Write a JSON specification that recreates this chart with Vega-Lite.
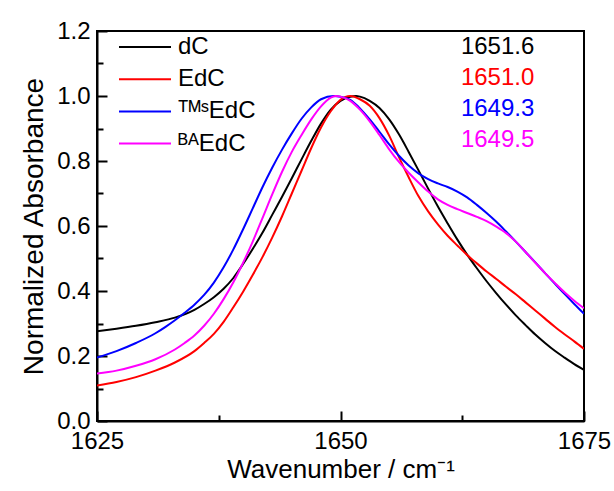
{
  "$schema": "https://vega.github.io/schema/vega-lite/v6.json",
  "width": 487,
  "height": 390,
  "autosize": {"type": "none"},
  "padding": {"left": 97, "top": 31, "right": 30, "bottom": 70},
  "background": "white",
  "config": {
    "font": "Liberation Sans",
    "view": {"stroke": "black", "strokeWidth": 2},
    "axis": {"domainColor": "black", "domainWidth": 2, "tickColor": "black", "tickWidth": 2, "grid": false, "labelColor": "black", "titleColor": "black", "labelFont": "Liberation Sans", "titleFont": "Liberation Sans", "titleFontWeight": "normal"}
  },
  "datasets": {
    "spectra": [
      {"s": "dC", "x": 1625, "y": 0.276}, {"s": "dC", "x": 1627, "y": 0.284}, {"s": "dC", "x": 1629, "y": 0.293}, {"s": "dC", "x": 1631, "y": 0.304}, {"s": "dC", "x": 1633, "y": 0.318}, {"s": "dC", "x": 1635, "y": 0.342}, {"s": "dC", "x": 1636, "y": 0.36}, {"s": "dC", "x": 1637, "y": 0.381}, {"s": "dC", "x": 1638, "y": 0.407}, {"s": "dC", "x": 1639, "y": 0.44}, {"s": "dC", "x": 1640, "y": 0.483}, {"s": "dC", "x": 1641, "y": 0.53}, {"s": "dC", "x": 1642, "y": 0.58}, {"s": "dC", "x": 1643, "y": 0.635}, {"s": "dC", "x": 1644, "y": 0.69}, {"s": "dC", "x": 1645, "y": 0.747}, {"s": "dC", "x": 1646, "y": 0.805}, {"s": "dC", "x": 1647, "y": 0.862}, {"s": "dC", "x": 1648, "y": 0.915}, {"s": "dC", "x": 1649, "y": 0.958}, {"s": "dC", "x": 1650, "y": 0.985}, {"s": "dC", "x": 1651, "y": 0.998}, {"s": "dC", "x": 1651.6, "y": 1.0}, {"s": "dC", "x": 1652, "y": 0.998}, {"s": "dC", "x": 1653, "y": 0.985}, {"s": "dC", "x": 1654, "y": 0.963}, {"s": "dC", "x": 1655, "y": 0.928}, {"s": "dC", "x": 1656, "y": 0.882}, {"s": "dC", "x": 1657, "y": 0.828}, {"s": "dC", "x": 1658, "y": 0.772}, {"s": "dC", "x": 1659, "y": 0.715}, {"s": "dC", "x": 1660, "y": 0.66}, {"s": "dC", "x": 1661, "y": 0.608}, {"s": "dC", "x": 1662, "y": 0.558}, {"s": "dC", "x": 1663, "y": 0.512}, {"s": "dC", "x": 1664, "y": 0.47}, {"s": "dC", "x": 1665, "y": 0.43}, {"s": "dC", "x": 1666, "y": 0.393}, {"s": "dC", "x": 1667, "y": 0.358}, {"s": "dC", "x": 1668, "y": 0.325}, {"s": "dC", "x": 1669, "y": 0.295}, {"s": "dC", "x": 1670, "y": 0.266}, {"s": "dC", "x": 1671, "y": 0.24}, {"s": "dC", "x": 1672, "y": 0.216}, {"s": "dC", "x": 1673, "y": 0.195}, {"s": "dC", "x": 1674, "y": 0.175}, {"s": "dC", "x": 1675, "y": 0.157},

      {"s": "EdC", "x": 1625, "y": 0.109}, {"s": "EdC", "x": 1627, "y": 0.12}, {"s": "EdC", "x": 1629, "y": 0.135}, {"s": "EdC", "x": 1631, "y": 0.155}, {"s": "EdC", "x": 1633, "y": 0.18}, {"s": "EdC", "x": 1635, "y": 0.215}, {"s": "EdC", "x": 1636, "y": 0.24}, {"s": "EdC", "x": 1637, "y": 0.268}, {"s": "EdC", "x": 1638, "y": 0.305}, {"s": "EdC", "x": 1639, "y": 0.35}, {"s": "EdC", "x": 1640, "y": 0.398}, {"s": "EdC", "x": 1641, "y": 0.45}, {"s": "EdC", "x": 1642, "y": 0.505}, {"s": "EdC", "x": 1643, "y": 0.565}, {"s": "EdC", "x": 1644, "y": 0.63}, {"s": "EdC", "x": 1645, "y": 0.7}, {"s": "EdC", "x": 1646, "y": 0.77}, {"s": "EdC", "x": 1647, "y": 0.84}, {"s": "EdC", "x": 1648, "y": 0.903}, {"s": "EdC", "x": 1649, "y": 0.953}, {"s": "EdC", "x": 1650, "y": 0.988}, {"s": "EdC", "x": 1651, "y": 1.0}, {"s": "EdC", "x": 1652, "y": 0.99}, {"s": "EdC", "x": 1653, "y": 0.97}, {"s": "EdC", "x": 1654, "y": 0.932}, {"s": "EdC", "x": 1655, "y": 0.878}, {"s": "EdC", "x": 1656, "y": 0.812}, {"s": "EdC", "x": 1657, "y": 0.75}, {"s": "EdC", "x": 1658, "y": 0.692}, {"s": "EdC", "x": 1659, "y": 0.645}, {"s": "EdC", "x": 1660, "y": 0.605}, {"s": "EdC", "x": 1661, "y": 0.57}, {"s": "EdC", "x": 1662, "y": 0.54}, {"s": "EdC", "x": 1663, "y": 0.511}, {"s": "EdC", "x": 1664, "y": 0.485}, {"s": "EdC", "x": 1665, "y": 0.46}, {"s": "EdC", "x": 1666, "y": 0.437}, {"s": "EdC", "x": 1667, "y": 0.413}, {"s": "EdC", "x": 1668, "y": 0.39}, {"s": "EdC", "x": 1669, "y": 0.365}, {"s": "EdC", "x": 1670, "y": 0.34}, {"s": "EdC", "x": 1671, "y": 0.315}, {"s": "EdC", "x": 1672, "y": 0.29}, {"s": "EdC", "x": 1673, "y": 0.267}, {"s": "EdC", "x": 1674, "y": 0.245}, {"s": "EdC", "x": 1675, "y": 0.222},

      {"s": "ᵀᴹˢEdC", "x": 1625, "y": 0.195}, {"s": "ᵀᴹˢEdC", "x": 1627, "y": 0.215}, {"s": "ᵀᴹˢEdC", "x": 1629, "y": 0.24}, {"s": "ᵀᴹˢEdC", "x": 1631, "y": 0.27}, {"s": "ᵀᴹˢEdC", "x": 1632, "y": 0.289}, {"s": "ᵀᴹˢEdC", "x": 1633, "y": 0.31}, {"s": "ᵀᴹˢEdC", "x": 1634, "y": 0.333}, {"s": "ᵀᴹˢEdC", "x": 1635, "y": 0.358}, {"s": "ᵀᴹˢEdC", "x": 1636, "y": 0.388}, {"s": "ᵀᴹˢEdC", "x": 1637, "y": 0.426}, {"s": "ᵀᴹˢEdC", "x": 1638, "y": 0.473}, {"s": "ᵀᴹˢEdC", "x": 1639, "y": 0.528}, {"s": "ᵀᴹˢEdC", "x": 1640, "y": 0.59}, {"s": "ᵀᴹˢEdC", "x": 1641, "y": 0.655}, {"s": "ᵀᴹˢEdC", "x": 1642, "y": 0.72}, {"s": "ᵀᴹˢEdC", "x": 1643, "y": 0.78}, {"s": "ᵀᴹˢEdC", "x": 1644, "y": 0.835}, {"s": "ᵀᴹˢEdC", "x": 1645, "y": 0.885}, {"s": "ᵀᴹˢEdC", "x": 1646, "y": 0.93}, {"s": "ᵀᴹˢEdC", "x": 1647, "y": 0.965}, {"s": "ᵀᴹˢEdC", "x": 1648, "y": 0.99}, {"s": "ᵀᴹˢEdC", "x": 1649.3, "y": 1.0}, {"s": "ᵀᴹˢEdC", "x": 1650, "y": 0.998}, {"s": "ᵀᴹˢEdC", "x": 1651, "y": 0.988}, {"s": "ᵀᴹˢEdC", "x": 1652, "y": 0.962}, {"s": "ᵀᴹˢEdC", "x": 1653, "y": 0.928}, {"s": "ᵀᴹˢEdC", "x": 1654, "y": 0.89}, {"s": "ᵀᴹˢEdC", "x": 1655, "y": 0.851}, {"s": "ᵀᴹˢEdC", "x": 1656, "y": 0.816}, {"s": "ᵀᴹˢEdC", "x": 1657, "y": 0.786}, {"s": "ᵀᴹˢEdC", "x": 1658, "y": 0.762}, {"s": "ᵀᴹˢEdC", "x": 1659, "y": 0.744}, {"s": "ᵀᴹˢEdC", "x": 1660, "y": 0.731}, {"s": "ᵀᴹˢEdC", "x": 1661, "y": 0.72}, {"s": "ᵀᴹˢEdC", "x": 1662, "y": 0.706}, {"s": "ᵀᴹˢEdC", "x": 1663, "y": 0.688}, {"s": "ᵀᴹˢEdC", "x": 1664, "y": 0.665}, {"s": "ᵀᴹˢEdC", "x": 1665, "y": 0.64}, {"s": "ᵀᴹˢEdC", "x": 1666, "y": 0.613}, {"s": "ᵀᴹˢEdC", "x": 1667, "y": 0.583}, {"s": "ᵀᴹˢEdC", "x": 1668, "y": 0.552}, {"s": "ᵀᴹˢEdC", "x": 1669, "y": 0.52}, {"s": "ᵀᴹˢEdC", "x": 1670, "y": 0.488}, {"s": "ᵀᴹˢEdC", "x": 1671, "y": 0.455}, {"s": "ᵀᴹˢEdC", "x": 1672, "y": 0.423}, {"s": "ᵀᴹˢEdC", "x": 1673, "y": 0.391}, {"s": "ᵀᴹˢEdC", "x": 1674, "y": 0.36}, {"s": "ᵀᴹˢEdC", "x": 1675, "y": 0.33},

      {"s": "ᴮᴬEdC", "x": 1625, "y": 0.146}, {"s": "ᴮᴬEdC", "x": 1627, "y": 0.155}, {"s": "ᴮᴬEdC", "x": 1629, "y": 0.17}, {"s": "ᴮᴬEdC", "x": 1631, "y": 0.19}, {"s": "ᴮᴬEdC", "x": 1633, "y": 0.22}, {"s": "ᴮᴬEdC", "x": 1634, "y": 0.24}, {"s": "ᴮᴬEdC", "x": 1635, "y": 0.263}, {"s": "ᴮᴬEdC", "x": 1636, "y": 0.293}, {"s": "ᴮᴬEdC", "x": 1637, "y": 0.33}, {"s": "ᴮᴬEdC", "x": 1638, "y": 0.375}, {"s": "ᴮᴬEdC", "x": 1639, "y": 0.427}, {"s": "ᴮᴬEdC", "x": 1640, "y": 0.487}, {"s": "ᴮᴬEdC", "x": 1641, "y": 0.553}, {"s": "ᴮᴬEdC", "x": 1642, "y": 0.625}, {"s": "ᴮᴬEdC", "x": 1643, "y": 0.698}, {"s": "ᴮᴬEdC", "x": 1644, "y": 0.767}, {"s": "ᴮᴬEdC", "x": 1645, "y": 0.828}, {"s": "ᴮᴬEdC", "x": 1646, "y": 0.88}, {"s": "ᴮᴬEdC", "x": 1647, "y": 0.928}, {"s": "ᴮᴬEdC", "x": 1648, "y": 0.968}, {"s": "ᴮᴬEdC", "x": 1649, "y": 0.995}, {"s": "ᴮᴬEdC", "x": 1649.5, "y": 1.0}, {"s": "ᴮᴬEdC", "x": 1650, "y": 0.998}, {"s": "ᴮᴬEdC", "x": 1651, "y": 0.985}, {"s": "ᴮᴬEdC", "x": 1652, "y": 0.958}, {"s": "ᴮᴬEdC", "x": 1653, "y": 0.922}, {"s": "ᴮᴬEdC", "x": 1654, "y": 0.88}, {"s": "ᴮᴬEdC", "x": 1655, "y": 0.836}, {"s": "ᴮᴬEdC", "x": 1656, "y": 0.797}, {"s": "ᴮᴬEdC", "x": 1657, "y": 0.764}, {"s": "ᴮᴬEdC", "x": 1658, "y": 0.734}, {"s": "ᴮᴬEdC", "x": 1659, "y": 0.706}, {"s": "ᴮᴬEdC", "x": 1660, "y": 0.682}, {"s": "ᴮᴬEdC", "x": 1661, "y": 0.665}, {"s": "ᴮᴬEdC", "x": 1662, "y": 0.652}, {"s": "ᴮᴬEdC", "x": 1663, "y": 0.64}, {"s": "ᴮᴬEdC", "x": 1664, "y": 0.628}, {"s": "ᴮᴬEdC", "x": 1665, "y": 0.615}, {"s": "ᴮᴬEdC", "x": 1666, "y": 0.598}, {"s": "ᴮᴬEdC", "x": 1667, "y": 0.578}, {"s": "ᴮᴬEdC", "x": 1668, "y": 0.552}, {"s": "ᴮᴬEdC", "x": 1669, "y": 0.52}, {"s": "ᴮᴬEdC", "x": 1670, "y": 0.487}, {"s": "ᴮᴬEdC", "x": 1671, "y": 0.455}, {"s": "ᴮᴬEdC", "x": 1672, "y": 0.425}, {"s": "ᴮᴬEdC", "x": 1673, "y": 0.396}, {"s": "ᴮᴬEdC", "x": 1674, "y": 0.37}, {"s": "ᴮᴬEdC", "x": 1675, "y": 0.347}
    ],
    "peaks": [
      {"s": "dC", "peak": "1651.6"},
      {"s": "EdC", "peak": "1651.0"},
      {"s": "ᵀᴹˢEdC", "peak": "1649.3"},
      {"s": "ᴮᴬEdC", "peak": "1649.5"}
    ]
  },
  "layer": [
    {
      "data": {"name": "spectra"},
      "mark": {"type": "line", "strokeWidth": 2, "interpolate": "monotone", "clip": true},
      "encoding": {
        "x": {
          "field": "x", "type": "quantitative",
          "scale": {"domain": [1625, 1675], "nice": false, "zero": false},
          "axis": {
            "title": "Wavenumber / cm⁻¹", "titleFontSize": 26, "titlePadding": 3,
            "values": [1625, 1637.5, 1650, 1662.5, 1675],
            "labelExpr": "datum.value % 25 == 0 ? format(datum.value, 'd') : ''",
            "labelFontSize": 24, "labelPadding": 18, "labelFlush": false,
            "ticks": true,
            "tickSize": {"condition": {"test": "datum.value % 25 == 0", "value": -10}, "value": -6}
          }
        },
        "y": {
          "field": "y", "type": "quantitative",
          "scale": {"domain": [0, 1.2], "nice": false},
          "axis": {
            "title": "Normalized Absorbance", "titleFontSize": 28, "titlePadding": 8,
            "values": [0, 0.1, 0.2, 0.3, 0.4, 0.5, 0.6, 0.7, 0.8, 0.9, 1.0, 1.1, 1.2],
            "labelExpr": "round(datum.value * 10) % 2 == 0 ? format(datum.value, '.1f') : ''",
            "labelFontSize": 24, "labelPadding": 17, "labelFlush": false,
            "ticks": true, "tickColor": "black", "tickWidth": 2,
            "tickSize": {"condition": {"test": "round(datum.value * 10) % 2 == 0", "value": -10}, "value": -6}
          }
        },
        "color": {
          "field": "s", "type": "nominal",
          "scale": {"domain": ["dC", "EdC", "ᵀᴹˢEdC", "ᴮᴬEdC"], "range": ["#000000", "#ff0000", "#0000ff", "#ff00ff"]},
          "legend": {
            "title": null, "orient": "none", "legendX": 34, "legendY": 2, "padding": 0,
            "symbolType": "M-2,0H2", "symbolSize": 676, "symbolStrokeWidth": 2,
            "labelFontSize": 24, "labelFont": "Liberation Sans", "labelColor": "black", "labelOffset": 19,
            "rowPadding": 6.2
          }
        }
      }
    },
    {
      "data": {"name": "peaks"},
      "mark": {"type": "text", "align": "right", "baseline": "middle", "fontSize": 24, "font": "Liberation Sans"},
      "encoding": {
        "x": {"datum": 1669.9, "type": "quantitative"},
        "y": {
          "field": "s", "type": "nominal", "axis": null,
          "scale": {"type": "point", "padding": 0, "domain": ["dC", "EdC", "ᵀᴹˢEdC", "ᴮᴬEdC"], "range": [15.7, 109]}
        },
        "text": {"field": "peak"},
        "color": {"field": "s", "type": "nominal"}
      }
    }
  ],
  "resolve": {"scale": {"y": "independent"}}
}
